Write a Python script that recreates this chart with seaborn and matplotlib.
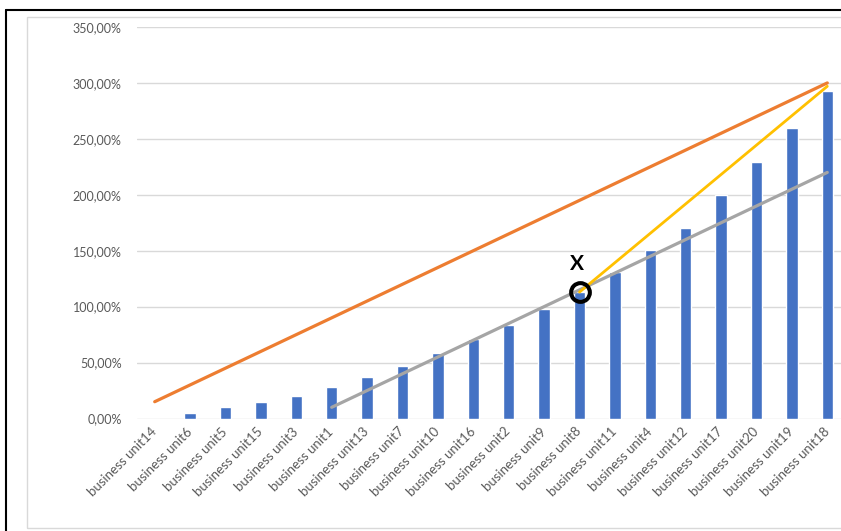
#!/usr/bin/env python3

# plot.py
#
# Business units sorted by value, with the three reference lines and the X point.
import matplotlib
matplotlib.use('Agg')
import matplotlib.pyplot as plt
import matplotlib.ticker as ticker
from matplotlib.lines import Line2D
from matplotlib.patches import Rectangle
import pandas as pd
import seaborn as sb

# Categories in display order and the bar values (percent)
UNITS = ['business unit14', 'business unit6', 'business unit5', 'business unit15',
         'business unit3', 'business unit1', 'business unit13', 'business unit7',
         'business unit10', 'business unit16', 'business unit2', 'business unit9',
         'business unit8', 'business unit11', 'business unit4', 'business unit12',
         'business unit17', 'business unit20', 'business unit19', 'business unit18']
VALUES = [0, 5, 10, 15, 20, 28, 37, 47, 59, 71, 84, 98, 113, 131, 151, 170, 200, 229, 260, 293]

# Straight reference lines, given by their end points (unit, percent)
ORANGE_UNITS, ORANGE_VALUES = ['business unit14', 'business unit18'], [15, 300]
GRAY_UNITS, GRAY_VALUES = ['business unit1', 'business unit18'], [10, 220]
YELLOW_UNITS, YELLOW_VALUES = ['business unit8', 'business unit18'], [113, 297]

# The highlighted point
POINT_UNIT, POINT_VALUE, POINT_LABEL = 'business unit8', 113, 'X'

TEXT_GRAY = '#595959'
GRID_GRAY = '#D9D9D9'


def main():
    sb.set_style('white')
    plt.rcParams['font.family'] = ['Lato', 'DejaVu Sans']

    width, height = 841, 531
    figure = plt.figure(figsize=(width / 100, height / 100), dpi=100)

    # Screenshot frame: black page edge and the light chart border
    figure.add_artist(Line2D([6 / width, 6 / width], [0, 1 - 10 / height], color='black', lw=1.5))
    figure.add_artist(Line2D([6 / width, 1], [1 - 10 / height, 1 - 10 / height], color='black', lw=1.5))
    figure.add_artist(Rectangle((27 / width, 3 / height), 1, 1 - 20 / height, fill=False,
                                edgecolor=GRID_GRAY, lw=1.0, transform=figure.transFigure))

    # Plot area (runs past the right edge, as in the screenshot)
    axis = figure.add_axes([137 / width, 112.5 / height, 708 / width, 391.5 / height])

    data = pd.DataFrame({'unit': UNITS, 'value': VALUES})
    sb.barplot(data=data, x='unit', y='value', order=UNITS, color='#4472C4', saturation=1,
               width=0.32, ax=axis, zorder=2)

    def position(name):
        return UNITS.index(name)

    axis.plot([position(u) for u in ORANGE_UNITS], ORANGE_VALUES, color='#ED7D31', lw=2.3,
              solid_capstyle='round', zorder=3)
    axis.plot([position(u) for u in GRAY_UNITS], GRAY_VALUES, color='#A5A5A5', lw=2.3,
              solid_capstyle='round', zorder=3)
    axis.plot([position(u) for u in YELLOW_UNITS], YELLOW_VALUES, color='#FFC000', lw=2.0,
              solid_capstyle='round', zorder=4)

    axis.plot(position(POINT_UNIT), POINT_VALUE, 'o', ms=13.5, mfc='none', mec='black',
              mew=2.9, zorder=5)
    axis.annotate(POINT_LABEL, (position(POINT_UNIT), POINT_VALUE), xytext=(-3, 28),
                  textcoords='offset pixels', ha='center', va='center', fontsize=15,
                  fontweight='bold', color='black')

    # Axes formatting
    axis.set_xlim(-0.5, len(UNITS) - 0.5)
    axis.set_ylim(0, 350)
    axis.yaxis.set_major_locator(ticker.MultipleLocator(50))
    axis.yaxis.set_major_formatter(ticker.FuncFormatter(
        lambda v, p: '{:.2f}%'.format(v).replace('.', ',')))
    axis.grid(axis='y', color=GRID_GRAY, lw=1.0, zorder=0)
    axis.set_axisbelow(True)
    sb.despine(ax=axis, top=True, right=True, left=True, bottom=True)
    axis.set_xlabel('')
    axis.set_ylabel('')
    axis.tick_params(axis='both', length=0, colors=TEXT_GRAY, labelsize=9)
    axis.tick_params(axis='x', labelsize=9.5)
    axis.tick_params(axis='y', pad=11)
    axis.tick_params(axis='x', pad=8)
    for label in axis.get_xticklabels():
        label.set_rotation(45)
        label.set_ha('right')
        label.set_va('center')
        label.set_rotation_mode('anchor')

    plt.savefig('out.png', dpi=100)
    plt.close()


if __name__ == '__main__':
    main()
